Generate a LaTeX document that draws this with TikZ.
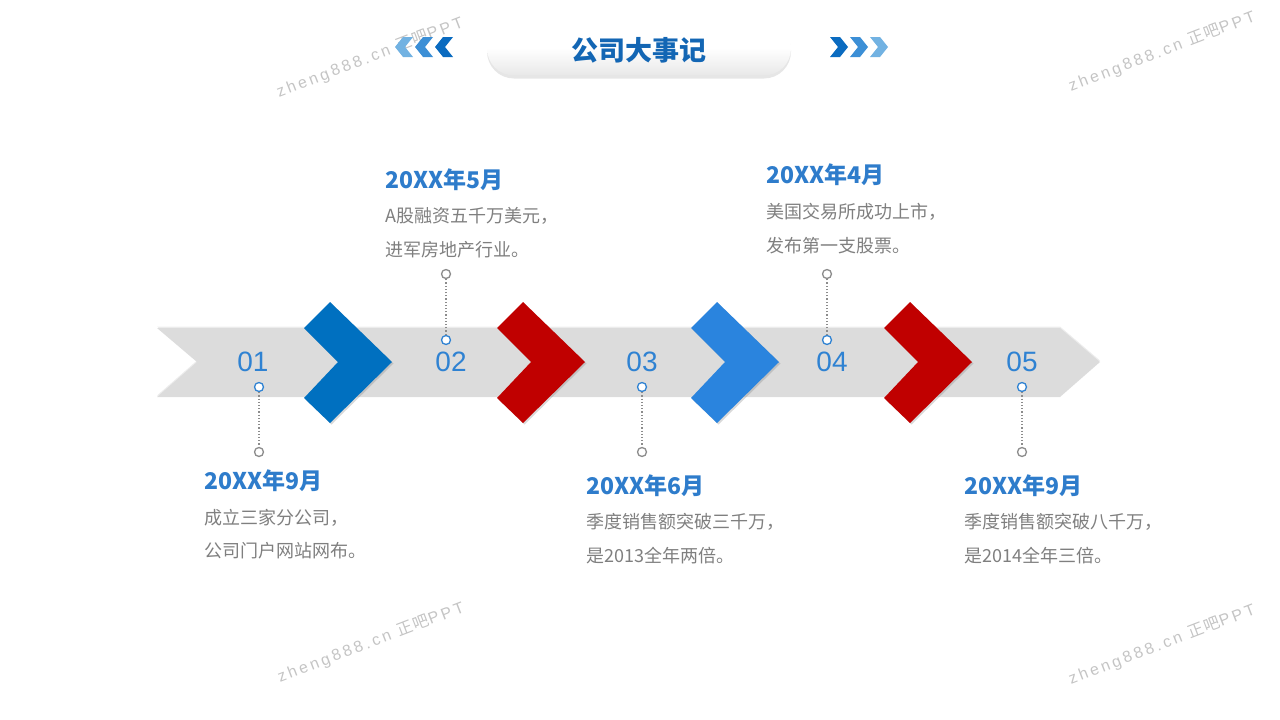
\documentclass[tikz,border=0pt]{standalone}
\usepackage{fontspec}
\setmainfont{Liberation Sans}
\newfontfamily\cjk{Noto Sans CJK SC}
\newfontfamily\wmlatin[LetterSpace=18]{Liberation Sans}
\newfontfamily\wmcjk[LetterSpace=10]{Noto Sans CJK SC}
\usetikzlibrary{shadows}
\definecolor{bandgray}{HTML}{DCDCDC}
\definecolor{dkblue}{HTML}{0070C0}
\definecolor{chevred}{HTML}{C00000}
\definecolor{ltblue}{HTML}{2A84DE}
\definecolor{numblue}{HTML}{2F82D2}
\definecolor{headblue}{HTML}{2E7CCB}
\definecolor{titleblue}{HTML}{1366B4}
\definecolor{textgray}{HTML}{7F7F7F}
\definecolor{dotgray}{HTML}{8C8C8C}
\definecolor{wmgray}{HTML}{C4C4C4}
\definecolor{arrA}{HTML}{0A6BC0}
\definecolor{arrB}{HTML}{3C8FD6}
\definecolor{arrC}{HTML}{72B2E2}
\begin{document}
\begin{tikzpicture}[x=1pt,y=-1pt,
	chev/.style={drop shadow={opacity=.3,shadow xshift=1.5pt,shadow yshift=-1.5pt}},
	titlebox/.style={rounded corners=27pt,minimum width=304pt,minimum height=55pt,top color=white,bottom color=black!9,middle color=white,
		drop shadow={opacity=.2,shadow xshift=0pt,shadow yshift=-3pt}},
	titletext/.style={font=\cjk\bfseries\fontsize{27}{30}\selectfont,text=titleblue,inner sep=0},
	num/.style={font=\fontsize{28}{30}\selectfont,text=numblue,inner sep=0},
	bdot/.style={circle,draw=numblue,fill=white,line width=1.3pt,minimum size=9pt,inner sep=0},
	gdot/.style={circle,draw=dotgray,fill=white,line width=1.3pt,minimum size=9pt,inner sep=0},
	dline/.style={draw=dotgray,dotted,line width=1.2pt},
	head/.style={anchor=west,inner sep=0,font=\cjk\bfseries\fontsize{23}{26}\selectfont,text=headblue},
	body/.style={anchor=west,inner sep=0,font=\cjk\fontsize{18}{20}\selectfont,text=textgray},
	wmark/.style={rotate=21,inner sep=0,text=wmgray,font=\fontsize{16}{18}\selectfont}]
	\useasboundingbox (0,0) rectangle (1280,720);
	
	\path (370,58) node[wmark] (w1) {\wmlatin zheng888.cn {\wmcjk 正吧}PPT};
	\path (1162,52) node[wmark] (w2) {\wmlatin zheng888.cn {\wmcjk 正吧}PPT};
	\path (371,643) node[wmark] (w3) {\wmlatin zheng888.cn {\wmcjk 正吧}PPT};
	\path (1162,645) node[wmark] (w4) {\wmlatin zheng888.cn {\wmcjk 正吧}PPT};
	
	\path (639,48) node[titlebox] (title) {};
	\path (title.center) ++(0,2) node[titletext] (ttl) {公司大事记};
	\fill[arrC] (395,47) -- ++(8,-10) -- ++(10,0) -- ++(-8,10) -- ++(8,10) -- ++(-10,0) -- cycle;
	\fill[arrB] (415,47) -- ++(8,-10) -- ++(10,0) -- ++(-8,10) -- ++(8,10) -- ++(-10,0) -- cycle;
	\fill[arrA] (435,47) -- ++(8,-10) -- ++(10,0) -- ++(-8,10) -- ++(8,10) -- ++(-10,0) -- cycle;
	\fill[arrA] (848,47) -- ++(-8,-10) -- ++(-10,0) -- ++(8,10) -- ++(-8,10) -- ++(10,0) -- cycle;
	\fill[arrB] (868,47) -- ++(-8,-10) -- ++(-10,0) -- ++(8,10) -- ++(-8,10) -- ++(10,0) -- cycle;
	\fill[arrC] (888,47) -- ++(-8,-10) -- ++(-10,0) -- ++(8,10) -- ++(-8,10) -- ++(10,0) -- cycle;
	
	\fill[bandgray,drop shadow={opacity=.15,shadow xshift=0pt,shadow yshift=1.5pt}] (157,328) -- (1060,328) -- (1100,362) -- (1060,397) -- (157,397) -- (197,362) -- cycle;
	\fill[dkblue,chev] (330,302) -- ++(62,60) -- ++(-62,61) -- ++(-26,-25) -- ++(34,-36) -- ++(-34,-34) -- cycle;
	\fill[chevred,chev] (523,302) -- ++(62,60) -- ++(-62,61) -- ++(-26,-25) -- ++(34,-36) -- ++(-34,-34) -- cycle;
	\fill[ltblue,chev] (717,302) -- ++(62,60) -- ++(-62,61) -- ++(-26,-25) -- ++(34,-36) -- ++(-34,-34) -- cycle;
	\fill[chevred,chev] (910,302) -- ++(62,60) -- ++(-62,61) -- ++(-26,-25) -- ++(34,-36) -- ++(-34,-34) -- cycle;
	
	\path (253,362) node[num] (n1) {01};
	\path (451,362) node[num] (n2) {02};
	\path (642,362) node[num] (n3) {03};
	\path (832,362) node[num] (n4) {04};
	\path (1022,362) node[num] (n5) {05};
	
	\path (259,387) node[bdot] (c1) {};
	\path (446,340) node[bdot] (c2) {};
	\path (642,387) node[bdot] (c3) {};
	\path (827,340) node[bdot] (c4) {};
	\path (1022,387) node[bdot] (c5) {};
	\path (259,452) node[gdot] (g1) {};
	\path (446,274) node[gdot] (g2) {};
	\path (642,452) node[gdot] (g3) {};
	\path (827,274) node[gdot] (g4) {};
	\path (1022,452) node[gdot] (g5) {};
	\draw[dline] (c1) -- (g1);
	\draw[dline] (c2) -- (g2);
	\draw[dline] (c3) -- (g3);
	\draw[dline] (c4) -- (g4);
	\draw[dline] (c5) -- (g5);
	
	\path (204,481) node[head] (h1) {20XX年9月};
	\path (204,518) node[body] (t1a) {成立三家分公司，};
	\path (204,551) node[body] (t1b) {公司门户网站网布。};
	\path (385,180) node[head] (h2) {20XX年5月};
	\path (385,216) node[body] (t2a) {A股融资五千万美元，};
	\path (385,250) node[body] (t2b) {进军房地产行业。};
	\path (586,486) node[head] (h3) {20XX年6月};
	\path (586,522) node[body] (t3a) {季度销售额突破三千万，};
	\path (586,556) node[body] (t3b) {是2013全年两倍。};
	\path (766,175) node[head] (h4) {20XX年4月};
	\path (766,212) node[body] (t4a) {美国交易所成功上市，};
	\path (766,246) node[body] (t4b) {发布第一支股票。};
	\path (964,486) node[head] (h5) {20XX年9月};
	\path (964,522) node[body] (t5a) {季度销售额突破八千万，};
	\path (964,556) node[body] (t5b) {是2014全年三倍。};
\end{tikzpicture}
\end{document}
